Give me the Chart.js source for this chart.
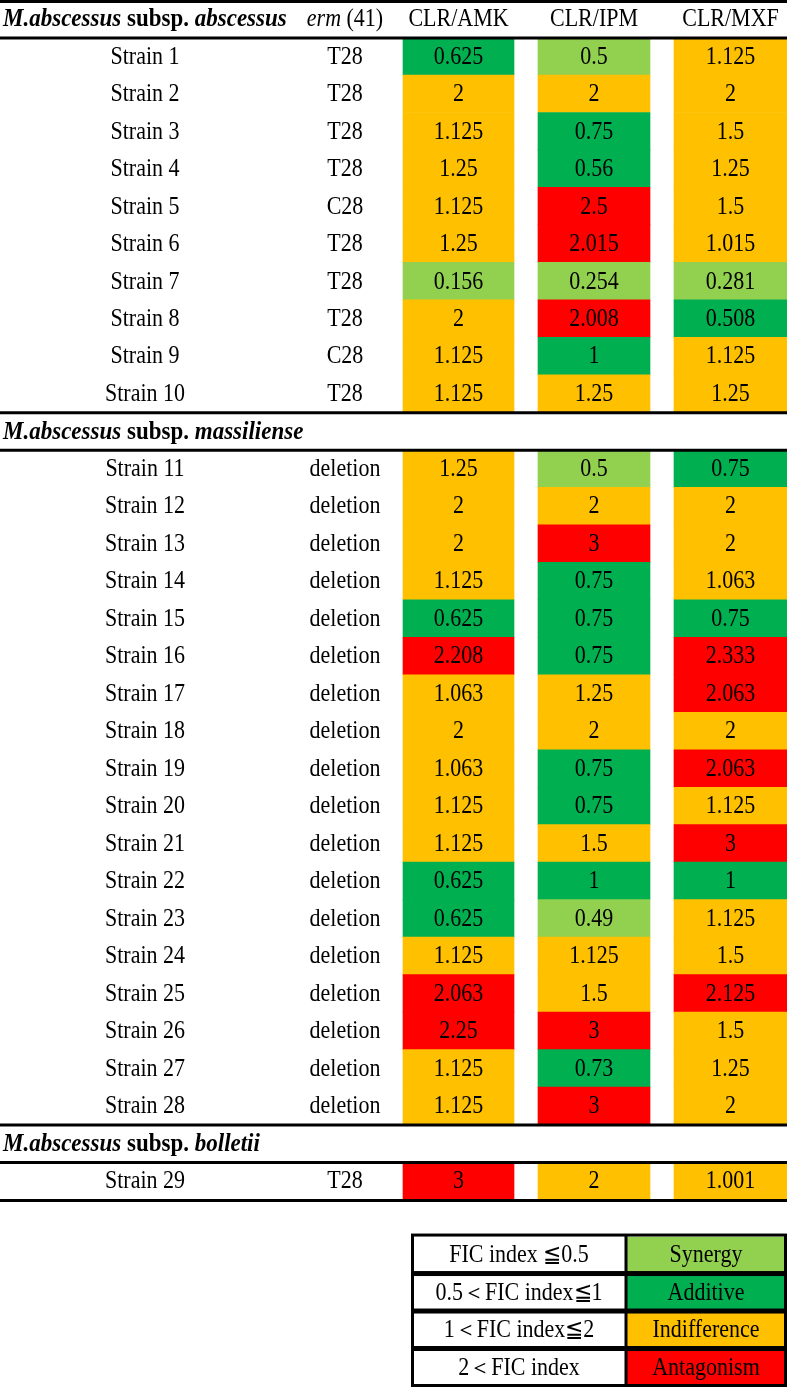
<!DOCTYPE html>
<html>
<head>
<meta charset="utf-8">
<script src="https://cdn.jsdelivr.net/npm/chart.js@4.4.1/dist/chart.umd.min.js"></script>
<style>
  html, body { margin: 0; padding: 0; background: #fff; }
  canvas { display: block; }
</style>
</head>
<body>
<canvas id="chart" width="787" height="1387"></canvas>
<script>
// --- data ---
const strains = [
  'Strain 1', 'Strain 2', 'Strain 3', 'Strain 4', 'Strain 5', 'Strain 6', 'Strain 7', 'Strain 8', 'Strain 9', 'Strain 10',
  'Strain 11', 'Strain 12', 'Strain 13', 'Strain 14', 'Strain 15', 'Strain 16', 'Strain 17', 'Strain 18', 'Strain 19',
  'Strain 20', 'Strain 21', 'Strain 22', 'Strain 23', 'Strain 24', 'Strain 25', 'Strain 26', 'Strain 27', 'Strain 28',
  'Strain 29'
];
const erm = [
  'T28', 'T28', 'T28', 'T28', 'C28', 'T28', 'T28', 'T28', 'C28', 'T28',
  'deletion', 'deletion', 'deletion', 'deletion', 'deletion', 'deletion', 'deletion', 'deletion', 'deletion',
  'deletion', 'deletion', 'deletion', 'deletion', 'deletion', 'deletion', 'deletion', 'deletion', 'deletion',
  'T28'
];
const clrAmk = [
  0.625, 2, 1.125, 1.25, 1.125, 1.25, 0.156, 2, 1.125, 1.125,
  1.25, 2, 2, 1.125, 0.625, 2.208, 1.063, 2, 1.063, 1.125, 1.125, 0.625, 0.625, 1.125, 2.063, 2.25, 1.125, 1.125,
  3
];
const clrIpm = [
  0.5, 2, 0.75, 0.56, 2.5, 2.015, 0.254, 2.008, 1, 1.25,
  0.5, 2, 3, 0.75, 0.75, 0.75, 1.25, 2, 0.75, 0.75, 1.5, 1, 0.49, 1.125, 1.5, 3, 0.73, 3,
  2
];
const clrMxf = [
  1.125, 2, 1.5, 1.25, 1.5, 1.015, 0.281, 0.508, 1.125, 1.25,
  0.75, 2, 2, 1.063, 0.75, 2.333, 2.063, 2, 2.063, 1.125, 3, 1, 1.125, 1.5, 2.125, 1.5, 1.25, 2,
  1.001
];
const drugs = ['CLR/AMK', 'CLR/IPM', 'CLR/MXF'];
const subspecies = ['abscessus', 'massiliense', 'bolletii'];
const subspeciesFirst = [0, 10, 28];   // index of first strain of each subspecies
const classes = ['Synergy', 'Additive', 'Indifference', 'Antagonism'];
const classRanges = ['FIC index \u22660.5', '0.5\uFF1CFIC index\u22661', '1\uFF1CFIC index\u22662', '2\uFF1CFIC index'];
const classLimits = [0.5, 1, 2, Infinity];

// --- layout / style ---
const COLORS = ['#92d050', '#00b050', '#ffc000', '#ff0000'];
const WIDTH = 787;
const COL_X = [[403, 514], [538, 650], [674, 787]];
const STRAIN_X = 145, ERM_X = 345;
const KEY_X = [412, 626, 786];
const FONT = '"Liberation Serif", "Times New Roman", serif';
const SIZE = 22;
const STRETCH = 1.1;   // glyphs in the original are a bit taller than wide

// table rows: section header, strains ..., then a gap and the key
const rows = [];
subspecies.forEach((s, si) => {
  rows.push({ kind: 'section', sec: si });
  const end = si + 1 < subspeciesFirst.length ? subspeciesFirst[si + 1] : strains.length;
  for (let i = subspeciesFirst[si]; i < end; i++) rows.push({ kind: 'strain', i });
});
rows.push({ kind: 'gap' });
classes.forEach((c, k) => rows.push({ kind: 'key', k }));

const classOf = v => classLimits.findIndex(l => v <= l);
const series = [clrAmk, clrIpm, clrMxf];

const datasets = series.map((vals, d) => ({
  label: drugs[d],
  data: rows.map(r => r.kind === 'strain' ? [COL_X[d][0], COL_X[d][1]] : null),
  backgroundColor: rows.map(r => r.kind === 'strain' ? COLORS[classOf(vals[r.i])] : 'rgba(0,0,0,0)'),
  fic: rows.map(r => r.kind === 'strain' ? vals[r.i] : null)
}));
datasets.push({
  label: 'key',
  data: rows.map(r => r.kind === 'key' ? [KEY_X[1], KEY_X[2]] : null),
  backgroundColor: rows.map(r => r.kind === 'key' ? COLORS[r.k] : 'rgba(0,0,0,0)')
});

function drawRuns(ctx, parts, x, y, center, size) {
  size = size || SIZE;
  let total = 0;
  parts.forEach(p => { ctx.font = `${p[1]} ${size}px ${FONT}`; total += ctx.measureText(p[0]).width; });
  let cx = center ? x - total / 2 : x;
  parts.forEach(p => {
    ctx.font = `${p[1]} ${size}px ${FONT}`;
    ctx.save();
    ctx.translate(cx, y);
    ctx.scale(1, STRETCH);
    ctx.fillText(p[0], 0, 0);
    ctx.restore();
    cx += ctx.measureText(p[0]).width;
  });
}

const tablePlugin = {
  id: 'tableText',
  afterDatasetsDraw(chart) {
    const ctx = chart.ctx;
    const y = chart.scales.y;
    const band = y.getPixelForValue(1) - y.getPixelForValue(0);
    ctx.save();
    ctx.fillStyle = '#000';
    ctx.strokeStyle = '#000';
    ctx.textBaseline = 'middle';
    ctx.textAlign = 'left';

    const rule = (py, w) => {
      ctx.lineWidth = w;
      ctx.beginPath(); ctx.moveTo(0, py); ctx.lineTo(WIDTH, py); ctx.stroke();
    };

    let lastStrainBottom = 0;
    rows.forEach((r, idx) => {
      const cy = y.getPixelForValue(idx);
      const top = cy - band / 2, bottom = cy + band / 2;
      if (r.kind === 'section') {
        const name = subspecies[r.sec];
        drawRuns(ctx, [['M.abscessus', 'italic bold'], [' subsp. ', 'bold'], [name, 'italic bold']], 3, cy + 1, false, 23);
        if (r.sec === 0) {
          drawRuns(ctx, [['erm', 'italic'], [' (41)', 'normal']], ERM_X, cy + 1, true);
          drugs.forEach((d, k) => {
            drawRuns(ctx, [[d, 'normal']], (COL_X[k][0] + COL_X[k][1]) / 2, cy + 1, true);
          });
          rule(top + 1.5, 3);
        } else {
          rule(top + 0.5, 3);
        }
        rule(bottom + 0.5, 3);
      } else if (r.kind === 'strain') {
        drawRuns(ctx, [[strains[r.i], 'normal']], STRAIN_X, cy + 1, true);
        drawRuns(ctx, [[erm[r.i], 'normal']], ERM_X, cy + 1, true);
        chart.data.datasets.forEach((ds, di) => {
          if (!ds.fic) return;
          const el = chart.getDatasetMeta(di).data[idx];
          drawRuns(ctx, [[String(ds.fic[idx]), 'normal']], (el.x + el.base) / 2, cy + 1, true);
        });
        lastStrainBottom = bottom;
      } else if (r.kind === 'key') {
        const last = r.k === classes.length - 1;
        const b = last ? bottom - 1.5 : bottom;
        drawRuns(ctx, [[classRanges[r.k], 'normal']], (KEY_X[0] + KEY_X[1]) / 2, cy, true);
        drawRuns(ctx, [[classes[r.k], 'normal']], (KEY_X[1] + KEY_X[2]) / 2, cy, true);
        ctx.lineWidth = 3;
        ctx.strokeRect(KEY_X[0] + 0.5, top - 2, KEY_X[2] - KEY_X[0] - 1, b - top + 2);
        ctx.beginPath(); ctx.moveTo(KEY_X[1], top - 2); ctx.lineTo(KEY_X[1], b); ctx.stroke();
      }
    });
    rule(lastStrainBottom + 1, 3);
    ctx.restore();
  }
};

new Chart(document.getElementById('chart'), {
  type: 'bar',
  data: { labels: rows.map((r, i) => 'row' + i), datasets },
  options: {
    indexAxis: 'y',
    responsive: false,
    animation: false,
    devicePixelRatio: 1,
    layout: { padding: 0 },
    datasets: { bar: { grouped: false, barPercentage: 1, categoryPercentage: 1, borderWidth: 0 } },
    plugins: { legend: { display: false }, tooltip: { enabled: false } },
    scales: {
      x: { type: 'linear', min: 0, max: WIDTH, display: false },
      y: { type: 'category', display: false, offset: true }
    }
  },
  plugins: [tablePlugin]
});
</script>
</body>
</html>
